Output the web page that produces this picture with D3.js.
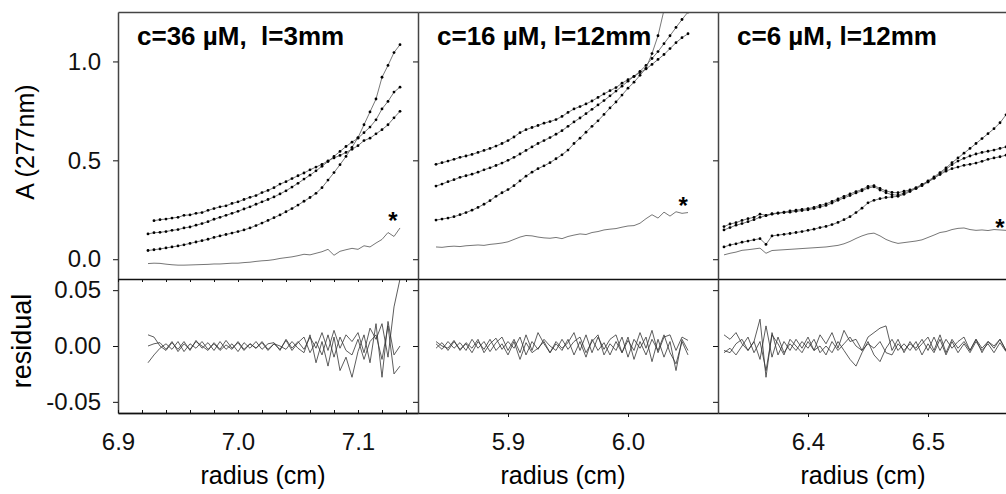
<!DOCTYPE html>
<html>
<head>
<meta charset="utf-8">
<script src="https://d3js.org/d3.v7.min.js"></script>
<style>
    body { margin: 0; background: #fff; }
    svg { display: block; font-family: "Liberation Sans", Arial, sans-serif; }
</style>
</head>
<body>
<svg id="chart"></svg>
<script>
    // radii of the scans (cm), one list per panel
    var radius36 = [6.925, 6.930, 6.935, 6.940, 6.945, 6.950, 6.955, 6.960, 6.965, 6.970,
        6.975, 6.980, 6.985, 6.990, 6.995, 7.000, 7.005, 7.010, 7.015, 7.020,
        7.025, 7.030, 7.035, 7.040, 7.045, 7.050, 7.055, 7.060, 7.065, 7.070,
        7.075, 7.080, 7.085, 7.090, 7.095, 7.100, 7.105, 7.110, 7.115, 7.120,
        7.125, 7.130, 7.135];
    var radius16 = [5.840, 5.845, 5.850, 5.855, 5.860, 5.865, 5.870, 5.875, 5.880, 5.885,
        5.890, 5.895, 5.900, 5.905, 5.910, 5.915, 5.920, 5.925, 5.930, 5.935,
        5.940, 5.945, 5.950, 5.955, 5.960, 5.965, 5.970, 5.975, 5.980, 5.985,
        5.990, 5.995, 6.000, 6.005, 6.010, 6.015, 6.020, 6.025, 6.030, 6.035,
        6.040, 6.045, 6.050];
    var radius6 = [6.330, 6.335, 6.340, 6.345, 6.350, 6.355, 6.360, 6.365, 6.370, 6.375,
        6.380, 6.385, 6.390, 6.395, 6.400, 6.405, 6.410, 6.415, 6.420, 6.425,
        6.430, 6.435, 6.440, 6.445, 6.450, 6.455, 6.460, 6.465, 6.470, 6.475,
        6.480, 6.485, 6.490, 6.495, 6.500, 6.505, 6.510, 6.515, 6.520, 6.525,
        6.530, 6.535, 6.540, 6.545, 6.550, 6.555, 6.560, 6.565, 6.570];

    // absorbance, c=36 uM
    var abs36a = [null, 0.195, 0.200, 0.203, 0.208, 0.212, 0.222, 0.224, 0.232, 0.236,
        0.247, 0.256, 0.265, 0.270, 0.282, 0.290, 0.302, 0.313, 0.322, 0.337,
        0.348, 0.362, 0.380, 0.392, 0.408, 0.422, 0.436, 0.452, 0.466, 0.480,
        0.497, 0.512, 0.525, 0.540, 0.556, 0.574, 0.600, 0.612, 0.634, 0.655,
        0.680, 0.715, 0.748];
    var abs36b = [0.128, 0.134, 0.136, 0.140, 0.146, 0.150, 0.158, 0.163, 0.172, 0.180,
        0.190, 0.202, 0.212, 0.222, 0.232, 0.242, 0.254, 0.265, 0.278, 0.290,
        0.302, 0.315, 0.330, 0.346, 0.365, 0.384, 0.405, 0.425, 0.447, 0.470,
        0.494, 0.520, 0.545, 0.570, 0.592, 0.612, 0.640, 0.668, 0.705, 0.760,
        0.798, 0.845, 0.870];
    var abs36c = [0.044, 0.048, 0.052, 0.057, 0.062, 0.067, 0.073, 0.080, 0.087, 0.094,
        0.101, 0.110, 0.118, 0.125, 0.132, 0.140, 0.148, 0.158, 0.170, 0.183,
        0.196, 0.210, 0.224, 0.240, 0.256, 0.274, 0.293, 0.312, 0.333, 0.362,
        0.400, 0.438, 0.478, 0.520, 0.566, 0.615, 0.680, 0.745, 0.810, 0.920,
        0.980, 1.045, 1.085];
    var star36 = [-0.022, -0.020, -0.021, -0.025, -0.028, -0.030, -0.030, -0.029, -0.028, -0.027,
        -0.026, -0.024, -0.024, -0.022, -0.020, -0.020, -0.017, -0.015, -0.011, -0.008,
        -0.006, -0.002, 0.004, 0.008, 0.012, 0.018, 0.025, 0.022, 0.030, 0.038,
        0.050, 0.020, 0.040, 0.048, 0.055, 0.050, 0.068, 0.062, 0.082, 0.100,
        0.135, 0.115, 0.158];
    var resid36a = [0.010, 0.008, 0.000, -0.004, 0.003, -0.003, 0.004, -0.004, 0.005, -0.002,
        0.003, -0.004, 0.004, -0.003, 0.002, -0.005, 0.003, -0.002, 0.004, -0.003,
        0.002, 0.003, -0.004, 0.006, -0.002, 0.004, -0.003, 0.008, -0.002, 0.012,
        -0.004, 0.014, -0.002, 0.010, 0.004, 0.012, -0.006, 0.016, 0.006, 0.020,
        -0.010, 0.035, 0.060];
    var resid36b = [0.000, 0.002, 0.003, -0.003, 0.004, -0.005, 0.002, -0.003, 0.004, 0.000,
        -0.004, 0.003, -0.003, 0.005, -0.002, 0.003, -0.004, 0.002, -0.002, 0.004,
        -0.003, 0.002, -0.003, 0.005, -0.004, 0.003, 0.008, -0.006, 0.004, -0.008,
        0.010, -0.010, 0.008, -0.004, -0.008, 0.006, -0.012, 0.004, 0.010, -0.012,
        0.018, -0.025, -0.018];
    var resid36c = [-0.015, -0.008, -0.002, 0.002, -0.003, 0.004, -0.005, 0.002, -0.002, 0.004,
        -0.003, 0.002, -0.004, 0.001, -0.003, 0.004, -0.003, 0.002, -0.002, 0.003,
        -0.004, 0.002, 0.000, -0.003, 0.004, -0.002, -0.006, 0.010, -0.015, 0.004,
        -0.018, 0.008, -0.022, -0.010, -0.028, -0.005, 0.010, -0.015, 0.020, -0.028,
        0.022, -0.008, 0.000];

    // absorbance, c=16 uM
    var abs16a = [0.480, 0.488, 0.496, 0.505, 0.515, 0.522, 0.530, 0.540, 0.550, 0.560,
        0.572, 0.585, 0.600, 0.618, 0.640, 0.655, 0.666, 0.676, 0.688, 0.696,
        0.706, 0.722, 0.742, 0.760, 0.772, 0.785, 0.800, 0.818, 0.836, 0.852,
        0.868, 0.890, 0.908, 0.924, 0.944, 0.962, 0.985, 1.010, 1.035, 1.065,
        1.095, 1.120, 1.140];
    var abs16b = [0.370, 0.380, 0.392, 0.402, 0.414, 0.422, 0.430, 0.440, 0.452, 0.462,
        0.474, 0.486, 0.500, 0.515, 0.532, 0.550, 0.568, 0.585, 0.600, 0.615,
        0.632, 0.650, 0.672, 0.694, 0.714, 0.736, 0.758, 0.780, 0.802, 0.826,
        0.850, 0.875, 0.900, 0.925, 0.950, 0.980, 1.015, 1.050, 1.090, 1.130,
        1.172, 1.212, 1.250];
    var abs16c = [0.198, 0.203, 0.208, 0.215, 0.225, 0.236, 0.248, 0.262, 0.278, 0.296,
        0.318, 0.336, 0.352, 0.372, 0.396, 0.420, 0.440, 0.458, 0.472, 0.488,
        0.508, 0.528, 0.552, 0.585, 0.612, 0.642, 0.672, 0.700, 0.732, 0.765,
        0.795, 0.830, 0.865, 0.895, 0.930, 0.965, 1.040, 1.130, 1.260, 1.360,
        null, null, null];
    var star16 = [0.062, 0.060, 0.064, 0.066, 0.064, 0.068, 0.070, 0.072, 0.070, 0.075,
        0.078, 0.082, 0.088, 0.100, 0.112, 0.120, 0.118, 0.112, 0.108, 0.106,
        0.110, 0.104, 0.115, 0.122, 0.128, 0.125, 0.135, 0.140, 0.148, 0.152,
        0.155, 0.162, 0.168, 0.170, 0.182, 0.205, 0.225, 0.208, 0.238, 0.218,
        0.240, 0.232, 0.236];
    var resid16a = [0.002, -0.003, 0.004, -0.002, 0.003, -0.004, 0.006, -0.002, 0.004, -0.005,
        0.003, 0.008, -0.004, 0.006, -0.006, 0.010, -0.004, 0.012, 0.002, -0.006,
        0.004, -0.002, 0.003, 0.012, -0.004, 0.010, -0.006, 0.008, -0.003, 0.006,
        0.010, -0.006, 0.005, -0.004, 0.012, -0.002, 0.014, -0.006, 0.008, 0.010,
        -0.004, 0.008, 0.005];
    var resid16b = [-0.002, 0.003, -0.004, 0.004, -0.003, 0.002, -0.006, 0.004, -0.003, 0.006,
        -0.004, 0.002, -0.008, 0.004, -0.012, 0.003, -0.006, -0.002, 0.004, -0.006,
        0.002, -0.004, 0.006, -0.008, 0.004, -0.010, 0.006, -0.004, 0.003, -0.008,
        0.004, -0.006, 0.008, -0.012, 0.004, -0.008, 0.006, -0.004, 0.010, -0.006,
        -0.016, 0.004, -0.008];
    var resid16c = [0.004, 0.000, -0.002, 0.005, -0.004, 0.003, -0.002, 0.006, -0.006, 0.002,
        0.007, -0.003, 0.004, -0.002, 0.008, -0.008, 0.004, -0.003, 0.006, 0.000,
        -0.004, 0.006, -0.003, 0.004, 0.008, -0.006, 0.004, 0.010, -0.008, 0.002,
        -0.004, 0.008, -0.010, 0.006, -0.002, 0.008, -0.014, 0.006, -0.010, 0.004,
        -0.022, 0.006, -0.004];

    // absorbance, c=6 uM
    var abs6a = [0.165, 0.178, 0.185, 0.196, 0.205, 0.212, 0.228, 0.222, 0.230, 0.234,
        0.238, 0.244, 0.248, 0.252, 0.256, 0.262, 0.272, 0.280, 0.292, 0.305,
        0.318, 0.330, 0.342, 0.352, 0.368, 0.372, 0.358, 0.345, 0.338, 0.336,
        0.344, 0.350, 0.362, 0.378, 0.392, 0.410, 0.428, 0.445, 0.458, 0.466,
        0.475, 0.480, 0.486, 0.495, 0.505, 0.512, 0.518, 0.526, 0.532];
    var abs6b = [0.148, 0.160, 0.172, 0.180, 0.190, 0.200, 0.212, 0.220, 0.228, 0.232,
        0.236, 0.238, 0.242, 0.246, 0.250, 0.256, 0.264, 0.272, 0.284, 0.298,
        0.310, 0.322, 0.335, 0.346, 0.360, 0.366, 0.350, 0.336, 0.326, 0.324,
        0.334, 0.346, 0.358, 0.372, 0.390, 0.410, 0.432, 0.455, 0.478, 0.496,
        0.510, 0.522, 0.532, 0.540, 0.546, 0.552, 0.560, 0.568, 0.575];
    var abs6c = [0.062, 0.072, 0.078, 0.086, 0.092, 0.098, 0.104, 0.075, 0.118, 0.122,
        0.126, 0.130, 0.135, 0.140, 0.146, 0.152, 0.160, 0.166, 0.175, 0.186,
        0.200, 0.215, 0.236, 0.258, 0.285, 0.298, 0.306, 0.312, 0.315, 0.318,
        0.328, 0.342, 0.358, 0.376, 0.396, 0.416, 0.438, 0.462, 0.488, 0.512,
        0.536, 0.560, 0.585, 0.610, 0.635, 0.660, 0.690, 0.730, 0.760];
    var star6 = [0.022, 0.030, 0.036, 0.045, 0.048, 0.052, 0.056, 0.030, 0.044, 0.046,
        0.048, 0.050, 0.052, 0.054, 0.056, 0.058, 0.060, 0.062, 0.066, 0.070,
        0.078, 0.090, 0.105, 0.118, 0.128, 0.132, 0.118, 0.100, 0.088, 0.080,
        0.084, 0.088, 0.092, 0.098, 0.110, 0.122, 0.135, 0.140, 0.150, 0.156,
        0.158, 0.150, 0.146, 0.148, 0.145, 0.150, 0.148, 0.146, 0.150];
    var resid6a = [0.010, 0.006, 0.012, 0.002, -0.004, 0.004, 0.024, -0.028, 0.012, -0.008,
        0.004, -0.004, 0.006, -0.002, 0.008, -0.004, 0.010, 0.002, 0.012, -0.002,
        0.014, 0.004, 0.006, -0.004, 0.008, 0.012, 0.016, 0.018, -0.004, 0.006,
        -0.006, 0.004, -0.004, 0.002, 0.008, -0.004, 0.010, -0.006, 0.006, -0.002,
        0.004, -0.004, 0.006, -0.002, 0.004, 0.000, 0.006, -0.004, 0.002];
    var resid6b = [-0.004, -0.006, 0.002, 0.006, -0.004, 0.004, -0.012, 0.018, -0.010, 0.008,
        -0.006, 0.002, -0.004, 0.004, -0.002, 0.006, -0.006, 0.000, -0.006, 0.004,
        -0.004, -0.012, -0.018, -0.006, 0.004, -0.008, -0.014, -0.002, 0.006, -0.004,
        0.002, -0.004, 0.004, -0.008, 0.002, -0.006, 0.006, -0.008, 0.004, -0.006,
        0.002, -0.006, 0.004, -0.004, 0.002, -0.006, 0.003, -0.005, 0.000];
    var resid6c = [-0.006, -0.002, -0.008, 0.000, 0.008, -0.006, 0.004, -0.022, 0.010, 0.002,
        -0.008, 0.006, 0.000, -0.006, 0.004, -0.004, 0.000, -0.008, 0.004, -0.004,
        0.002, 0.008, 0.000, -0.004, 0.002, -0.002, 0.004, -0.006, -0.008, 0.002,
        -0.004, 0.002, -0.002, 0.006, -0.004, 0.008, -0.004, 0.006, -0.002, 0.004,
        0.008, -0.004, 0.006, -0.006, 0.004, -0.002, 0.006, -0.004, 0.006];

    // ticks and labels
    var yTopTicks = [0, 0.5, 1.0];
    var yResTicks = [-0.05, 0, 0.05];
    var xMajor36 = [6.9, 7.0, 7.1];
    var xMinor36 = [6.90, 6.92, 6.94, 6.96, 6.98, 7.00, 7.02, 7.04, 7.06, 7.08, 7.10, 7.12, 7.14];
    var xMajor16 = [5.9, 6.0];
    var xMajor6 = [6.4, 6.5];
    var titles = ['c=36 µM,  l=3mm', 'c=16 µM, l=12mm', 'c=6 µM, l=12mm'];
    // where the asterisk sits, in data units [radius, absorbance]
    var starMarks = [[7.129, 0.223], [6.046, 0.299], [6.560, 0.188]];

    var width = 1006;
    var height = 494;
    var panelLeft = 118;
    var panelWidth = 300;
    var topY = 12;
    var midY = 279;
    var bottomY = 413;
    var frameColor = '#444';
    var inkColor = '#111';

    var panels = [
        { radius: radius36, curves: [abs36a, abs36b, abs36c], star: star36,
          resid: [resid36a, resid36b, resid36c], domain: [6.9, 7.15], major: xMajor36, minor: xMinor36 },
        { radius: radius16, curves: [abs16a, abs16b, abs16c], star: star16,
          resid: [resid16a, resid16b, resid16c], domain: [5.825, 6.075], major: xMajor16, minor: null },
        { radius: radius6, curves: [abs6a, abs6b, abs6c], star: star6,
          resid: [resid6a, resid6b, resid6c], domain: [6.325, 6.575], major: xMajor6, minor: null }
    ];

    var svg = d3.select('#chart')
        .attr('width', width)
        .attr('height', height);

    svg.append('rect')
        .attr('width', width)
        .attr('height', height)
        .attr('fill', '#fff');

    var defs = svg.append('defs');

    var yTop = d3.scaleLinear()
        .domain([-0.1, 1.25])
        .range([midY, topY]);

    var yRes = d3.scaleLinear()
        .domain([-0.06, 0.06])
        .range([bottomY, midY]);

    panels.forEach(function(p, k) {
        var x0 = panelLeft + k * panelWidth;
        var x = d3.scaleLinear()
            .domain(p.domain)
            .range([x0, x0 + panelWidth]);

        defs.append('clipPath').attr('id', 'clipTop' + k)
            .append('rect')
            .attr('x', x0).attr('y', topY)
            .attr('width', panelWidth).attr('height', midY - topY);
        defs.append('clipPath').attr('id', 'clipRes' + k)
            .append('rect')
            .attr('x', x0).attr('y', midY)
            .attr('width', panelWidth).attr('height', bottomY - midY);

        var lineTop = d3.line()
            .defined(function(d) { return d[1] !== null; })
            .x(function(d) { return x(d[0]); })
            .y(function(d) { return yTop(d[1]); })
            .curve(d3.curveLinear);

        var lineRes = d3.line()
            .x(function(d) { return x(d[0]); })
            .y(function(d) { return yRes(d[1]); })
            .curve(d3.curveLinear);

        var pair = function(vals) {
            return p.radius.map(function(r, i) { return [r, vals[i]]; });
        };

        var gTop = svg.append('g').attr('clip-path', 'url(#clipTop' + k + ')');

        // the marked curve without points
        gTop.append('path')
            .datum(pair(p.star))
            .attr('d', lineTop)
            .attr('fill', 'none')
            .attr('stroke', '#666')
            .attr('stroke-width', 0.9);

        p.curves.forEach(function(vals) {
            var pts = pair(vals);
            gTop.append('path')
                .datum(pts)
                .attr('d', lineTop)
                .attr('fill', 'none')
                .attr('stroke', '#555')
                .attr('stroke-width', 0.8);
            gTop.selectAll(null)
                .data(pts.filter(function(d) { return d[1] !== null; }))
                .enter()
                .append('circle')
                .attr('cx', function(d) { return x(d[0]); })
                .attr('cy', function(d) { return yTop(d[1]); })
                .attr('r', 1.4)
                .attr('fill', '#000');
        });

        var gRes = svg.append('g').attr('clip-path', 'url(#clipRes' + k + ')');
        p.resid.forEach(function(vals) {
            gRes.append('path')
                .datum(pair(vals))
                .attr('d', lineRes)
                .attr('fill', 'none')
                .attr('stroke', '#333')
                .attr('stroke-width', 0.8);
        });

        // asterisk
        svg.append('text')
            .attr('x', x(starMarks[k][0]))
            .attr('y', yTop(starMarks[k][1]))
            .attr('dy', '0.58em')
            .attr('text-anchor', 'middle')
            .attr('font-size', 24)
            .attr('font-weight', 'bold')
            .text('*');

        // panel title
        svg.append('text')
            .attr('x', x0 + 19)
            .attr('y', 45)
            .attr('font-size', 26)
            .attr('font-weight', 'bold')
            .style('white-space', 'pre')
            .text(titles[k]);

        // top frame line
        svg.append('g')
            .attr('transform', 'translate(0,' + topY + ')')
            .call(d3.axisTop(x).tickValues([]).tickSizeOuter(0))
            .call(function(g) { g.select('.domain').attr('stroke', frameColor).attr('stroke-width', 1.5); });

        // left axes
        svg.append('g')
            .attr('transform', 'translate(' + x0 + ',0)')
            .call(d3.axisLeft(yTop)
                .tickValues(yTopTicks)
                .tickSize(5)
                .tickSizeOuter(0)
                .tickPadding(12)
                .tickFormat(function(d) { return k === 0 ? d.toFixed(1) : ''; }))
            .call(styleAxis);

        svg.append('g')
            .attr('transform', 'translate(' + x0 + ',0)')
            .call(d3.axisLeft(yRes)
                .tickValues(yResTicks)
                .tickSize(5)
                .tickSizeOuter(0)
                .tickPadding(12)
                .tickFormat(function(d) { return k === 0 ? d.toFixed(2) : ''; }))
            .call(styleAxis);

        // line between the two rows
        svg.append('g')
            .attr('transform', 'translate(0,' + midY + ')')
            .call(d3.axisBottom(x)
                .tickValues(p.minor ? p.minor : [])
                .tickSize(3)
                .tickSizeOuter(0)
                .tickFormat(''))
            .call(styleAxis)
            .call(function(g) { g.select('.domain').attr('stroke', inkColor); });

        // bottom axis
        if (p.minor) {
            svg.append('g')
                .attr('transform', 'translate(0,' + bottomY + ')')
                .call(d3.axisBottom(x)
                    .tickValues(p.minor)
                    .tickSize(-3)
                    .tickSizeOuter(0)
                    .tickFormat(''))
                .call(styleAxis);
            svg.append('g')
                .attr('transform', 'translate(0,' + bottomY + ')')
                .call(d3.axisBottom(x)
                    .tickValues(p.major)
                    .tickSize(0)
                    .tickSizeOuter(0)
                    .tickPadding(20)
                    .tickFormat(d3.format('.1f')))
                .call(styleAxis)
                .call(function(g) { g.select('.domain').attr('stroke', inkColor); });
        } else {
            svg.append('g')
                .attr('transform', 'translate(0,' + bottomY + ')')
                .call(d3.axisBottom(x)
                    .tickValues(p.major)
                    .tickSize(4)
                    .tickSizeOuter(0)
                    .tickPadding(16)
                    .tickFormat(d3.format('.1f')))
                .call(styleAxis)
                .call(function(g) { g.select('.domain').attr('stroke', inkColor); });
        }

        svg.append('text')
            .attr('x', x0 + panelWidth / 2 - 5)
            .attr('y', 484)
            .attr('text-anchor', 'middle')
            .attr('font-size', 25)
            .text('radius (cm)');
    });

    svg.append('text')
        .attr('transform', 'translate(34,142) rotate(-90)')
        .attr('text-anchor', 'middle')
        .attr('font-size', 25)
        .text('A (277nm)');

    svg.append('text')
        .attr('transform', 'translate(31,341) rotate(-90)')
        .attr('text-anchor', 'middle')
        .attr('font-size', 27)
        .text('residual');

    function styleAxis(g) {
        g.attr('font-family', null)
            .attr('font-size', 24)
            .attr('color', inkColor);
        g.select('.domain').attr('stroke', frameColor).attr('stroke-width', 1.5);
        g.selectAll('.tick line').attr('stroke-width', 1);
    }
</script>
</body>
</html>
